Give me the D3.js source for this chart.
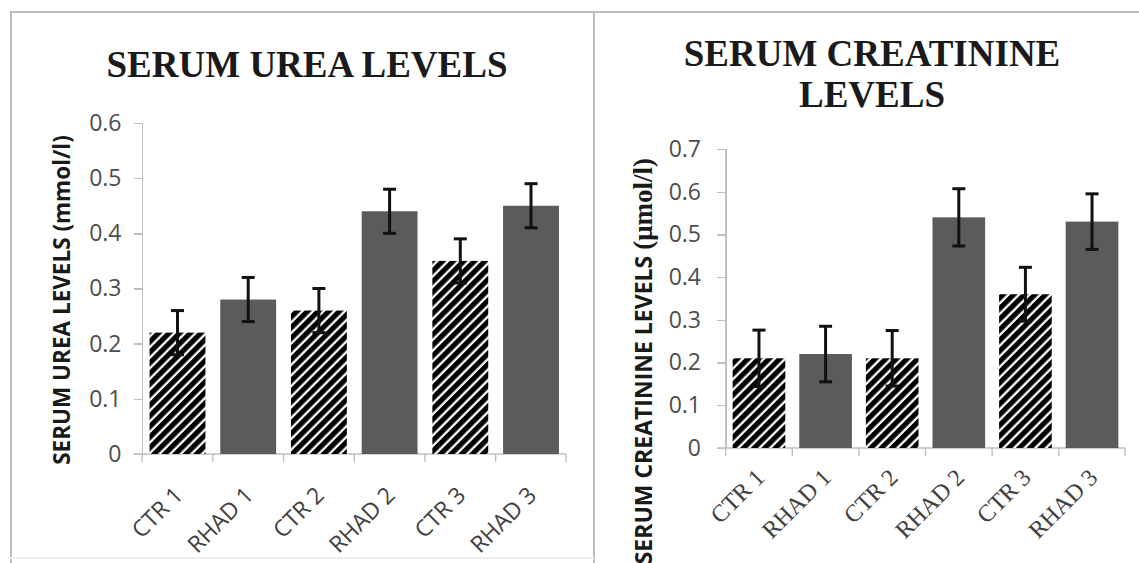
<!DOCTYPE html>
<meta charset="utf-8">
<style>
body { margin: 0; background: #fff; }
svg { display: block; }
.frame { stroke: #bdbdbd; stroke-width: 2; fill: none; }
.axis path, .axis line { stroke: #bfbfbf; stroke-width: 1.4; shape-rendering: crispEdges; }
.title { font-family: 'Liberation Serif', serif; font-weight: bold; font-size: 37px; fill: #1a1a1a; }
.ylab { font-family: 'Open Sans', sans-serif; font-weight: bold; font-size: 22.5px; fill: #1a1a1a; }
.err { stroke: #111; stroke-width: 3; fill: none; }
</style>
<body>
<script src="https://d3js.org/d3.v7.min.js"></script>
<script>
var groups = ["CTR 1", "RHAD 1", "CTR 2", "RHAD 2", "CTR 3", "RHAD 3"];
var hatched = [true, false, true, false, true, false];

// serum urea (mmol/l)
var ureaMean = [0.22, 0.28, 0.26, 0.44, 0.35, 0.45];
var ureaErr = [0.04, 0.04, 0.04, 0.04, 0.04, 0.04];
var ureaTicks = [0, 0.1, 0.2, 0.3, 0.4, 0.5, 0.6];

// serum creatinine (umol/l)
var creatMean = [0.21, 0.22, 0.21, 0.54, 0.36, 0.53];
var creatErr = [0.066, 0.065, 0.065, 0.067, 0.063, 0.065];
var creatTicks = [0, 0.1, 0.2, 0.3, 0.4, 0.5, 0.6, 0.7];

var W = 1139, H = 563;
var svg = d3.select("body").append("svg")
	.attr("width", W)
	.attr("height", H);

// stripe pattern for the control bars
var defs = svg.append("defs");
var pat = defs.append("pattern")
	.attr("id", "hatch")
	.attr("patternUnits", "userSpaceOnUse")
	.attr("width", 7.5)
	.attr("height", 8)
	.attr("patternTransform", "rotate(45)");
pat.append("rect").attr("width", 7.5).attr("height", 8).attr("fill", "#fff");
pat.append("rect").attr("width", 5.2).attr("height", 8).attr("fill", "#000");

// outer frame + divider
svg.append("line").attr("class", "frame").attr("x1", 10).attr("x2", W).attr("y1", 12).attr("y2", 12);
svg.append("line").attr("class", "frame").attr("x1", 11).attr("x2", 11).attr("y1", 11).attr("y2", H);
svg.append("line").attr("class", "frame").attr("x1", 594).attr("x2", 594).attr("y1", 11).attr("y2", H);
svg.append("line").attr("class", "frame").style("stroke", "#eee").attr("x1", 10).attr("x2", 594).attr("y1", 558).attr("y2", 558);

function drawChart(opt) {
	var g = svg.append("g");

	var x = d3.scaleBand().domain(groups).range([opt.left, opt.right]).paddingInner(0.21).paddingOuter(0.1);
	var y = d3.scaleLinear().domain([0, opt.max]).range([opt.bottom, opt.top]);

	// y axis
	var ya = g.append("g")
		.attr("class", "axis")
		.attr("transform", "translate(" + opt.left + ",0)")
		.call(d3.axisLeft(y).tickValues(opt.ticks).tickSize(9).tickPadding(opt.tickPad)
			.tickFormat(function(d) { return d === 0 ? "0" : d3.format(".1f")(d); }));
	ya.select(".domain").attr("d", "M0," + y(0) + "V" + opt.top);
	ya.selectAll("text")
		.style("font-family", "'Open Sans', sans-serif")
		.style("font-size", "23px")
		.style("fill", "#4d4d4d");

	// x axis, ticks on the band edges
	var edges = groups.map(function(d) { return x(d) - x.step() * x.paddingInner() / 2; });
	edges.push(opt.right);
	g.append("line")
		.style("stroke", "#bfbfbf").style("stroke-width", 1.4)
		.attr("x1", opt.left - 9).attr("x2", opt.right)
		.attr("y1", y(0)).attr("y2", y(0));
	g.selectAll(".xtick").data(edges).enter().append("line")
		.style("stroke", "#bfbfbf").style("stroke-width", 1.4)
		.attr("x1", function(d) { return d; }).attr("x2", function(d) { return d; })
		.attr("y1", y(0)).attr("y2", y(0) + 8);

	g.selectAll(".xlab").data(groups).enter().append("text")
		.attr("transform", function(d) {
			return "translate(" + (x(d) + x.bandwidth() / 2 + opt.labDx) + "," + (y(0) + opt.labDy) + ") rotate(-45)";
		})
		.attr("text-anchor", "end")
		.attr("dy", "0.35em")
		.style("font-family", opt.xFont)
		.style("font-size", opt.xSize)
		.style("fill", "#404040")
		.text(function(d) { return d; });

	// bars
	g.selectAll(".bar").data(opt.mean).enter().append("rect")
		.attr("x", function(d, i) { return x(groups[i]); })
		.attr("width", x.bandwidth())
		.attr("y", function(d) { return y(d); })
		.attr("height", function(d) { return y(0) - y(d); })
		.attr("fill", function(d, i) { return hatched[i] ? "url(#hatch)" : "#5b5b5b"; });

	// error bars
	opt.mean.forEach(function(m, i) {
		var cx = x(groups[i]) + x.bandwidth() / 2;
		var hi = y(m + opt.err[i]), lo = y(m - opt.err[i]);
		g.append("line").attr("class", "err").attr("x1", cx).attr("x2", cx).attr("y1", hi).attr("y2", lo);
		g.append("line").attr("class", "err").attr("x1", cx - 6.5).attr("x2", cx + 6.5).attr("y1", hi).attr("y2", hi);
		g.append("line").attr("class", "err").attr("x1", cx - 6.5).attr("x2", cx + 6.5).attr("y1", lo).attr("y2", lo);
	});

	// title
	var t = g.append("text").attr("class", "title").attr("text-anchor", "middle");
	opt.title.forEach(function(s, i) {
		t.append("tspan").attr("x", opt.titleX).attr("y", opt.titleY + i * 41).text(s);
	});

	// y label
	var yl = g.append("text")
		.attr("class", "ylab")
		.style("font-size", opt.ylabSize)
		.attr("transform", "translate(" + opt.ylabX + "," + opt.ylabY + ") rotate(-90)")
		.attr("text-anchor", opt.ylabAnchor);
	yl.append("tspan").text(opt.ylab[0]);
	yl.append("tspan").style("font-family", opt.ylab[2]).style("font-size", opt.ylab[3]).text(opt.ylab[1]);
}

drawChart({
	left: 142.5, right: 566, top: 123, bottom: 454, max: 0.6,
	ticks: ureaTicks, mean: ureaMean, err: ureaErr, tickPad: 12,
	title: ["SERUM UREA LEVELS"], titleX: 307, titleY: 77,
	ylab: ["SERUM UREA LEVELS ", "(mmol/l)", "'Open Sans', sans-serif", "22.5px"],
	ylabX: 70, ylabY: 300, ylabAnchor: "middle", ylabSize: "22.5px",
	xFont: "'Open Sans', sans-serif", xSize: "23px", labDx: 1, labDy: 37
});

drawChart({
	left: 726, right: 1125, top: 149, bottom: 448, max: 0.7,
	ticks: creatTicks, mean: creatMean, err: creatErr, tickPad: 16,
	title: ["SERUM CREATININE", "LEVELS"], titleX: 872, titleY: 66,
	ylab: ["SERUM CREATININE LEVELS ", "(\u03bcmol/l)", "'Liberation Serif', serif", "27px"],
	ylabX: 652, ylabY: 158, ylabAnchor: "end", ylabSize: "23px",
	xFont: "'Liberation Serif', serif", xSize: "24px", labDx: 1, labDy: 25
});
</script>
